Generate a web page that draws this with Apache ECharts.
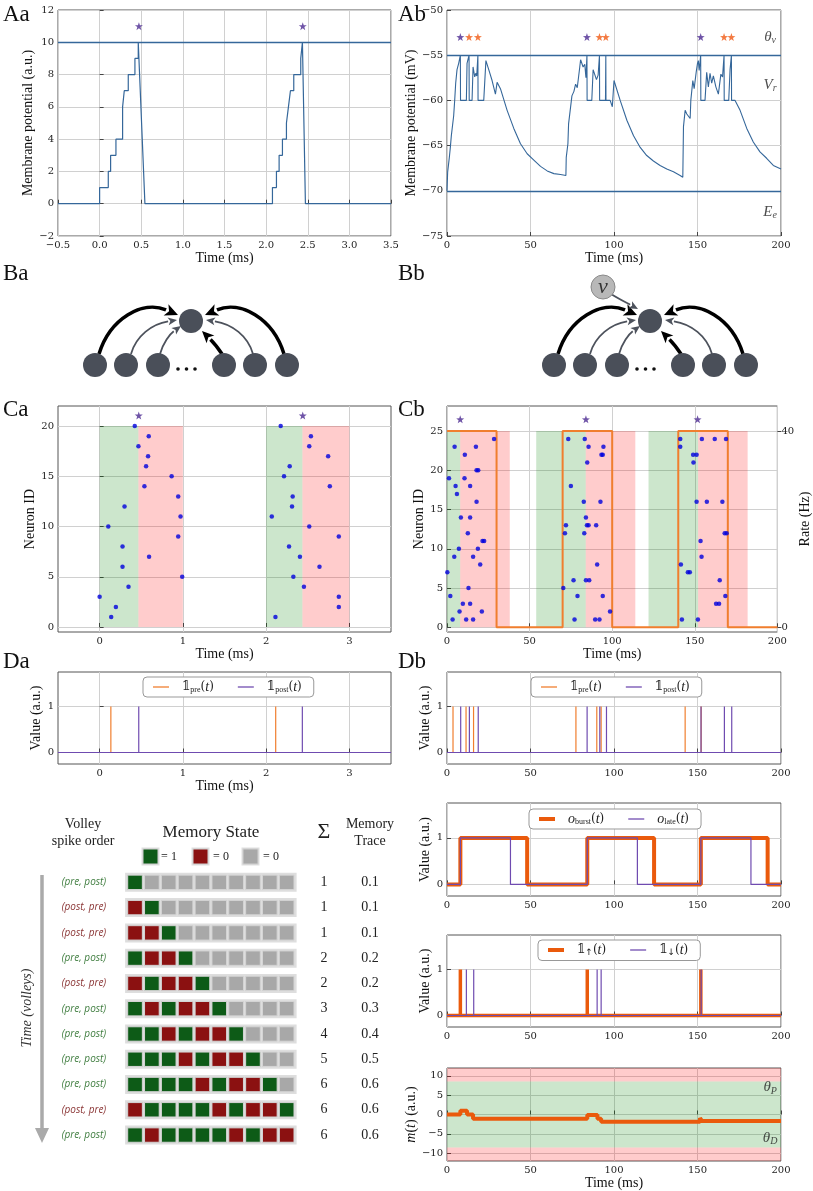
<!DOCTYPE html>
<html><head><meta charset="utf-8">
<script src="https://cdn.jsdelivr.net/npm/echarts@6/dist/echarts.min.js"></script>
<style>html,body{margin:0;padding:0;background:#fff}#c{width:813px;height:1191px}</style>
</head><body><div id="c"></div>
<script>
// ---------------- DATA ----------------
// Aa: membrane potential (a.u.)
const aaT = [-0.5,0,0,0.104,0.104,0.132,0.132,0.196,0.196,0.276,0.276,0.296,0.296,0.344,0.344,0.424,0.424,0.464,0.464,0.476,0.544,
             2.076,2.076,2.124,2.124,2.156,2.156,2.196,2.196,2.244,2.244,2.268,2.268,2.292,2.292,2.332,2.332,2.416,2.416,2.436,2.436,2.452,2.472,3.5];
const aaV = [0,0,1,1,2,2,3,3,4,4,6,6,7,7,8,8,9,9,10,10,0,
             0,1,1,2,2,3,3,4,4,5,5,6,6,7,7,8,8,9,9,10,10,0,0];
const aaThreshold = 10;
const aaStars = [0.472, 2.44];
const aaXTicks = [-0.5,0,0.5,1,1.5,2,2.5,3,3.5];
const aaYTicks = [-2,0,2,4,6,8,10,12];
// Ab: membrane potential (mV)
const abTrace = [[0,-70],[0.4,-67.9],[1.4,-66.3],[2,-65.2],[2.6,-63.9],[3.6,-63.7],[4,-61.7],[4.6,-60],[5.2,-58.1],[6,-56.6],[7,-55.9],[7.6,-56.1],[8,-55],[8.1,-60],[11.6,-60],[12,-55.9],[12.6,-55.7],[13.2,-55],[13.3,-60],[15,-60],[15.6,-56.3],[16.6,-57.4],[17.2,-57.0],[17.8,-57.3],[18.5,-55],[18.6,-60],[22,-60],[23.3,-55.6],[25,-56.6],[27,-57.8],[29,-59.3],[30,-58.0],[32,-58.7],[36,-61.1],[40,-63.1],[44,-64.8],[48,-65.9],[52,-66.6],[56,-67.3],[60,-67.8],[64,-68.1],[68,-68.2],[71.2,-68.3],[71.4,-66.3],[72.4,-64.8],[72.8,-62.6],[73.4,-62.4],[74.8,-59.5],[76,-59.0],[77,-58.2],[78,-58.6],[79.5,-56.3],[80,-55.5],[81.5,-56.3],[82.5,-56.0],[83.2,-57.5],[83.8,-55],[83.9,-60],[86.7,-60],[87.5,-56.6],[89.5,-57.7],[90.5,-57.2],[91.3,-55],[91.4,-60],[94.9,-60],[95.1,-55],[95.2,-60],[97.7,-60],[99,-60.7],[100,-57.8],[103.7,-60],[107.7,-62.2],[111.7,-63.9],[115.7,-65.2],[119.6,-66.1],[123.6,-66.7],[127.6,-67.2],[131.6,-67.6],[135.6,-67.9],[139.6,-68.3],[141.2,-68.5],[141.6,-62.9],[142.6,-61.1],[143.6,-61.5],[145.6,-62.0],[146,-60],[147.2,-57.8],[148,-58.7],[149.2,-56.9],[150,-55.9],[150.5,-55.6],[151,-56.7],[151.9,-55],[152,-60],[154.5,-60],[155.5,-56.9],[156.5,-58.5],[157.5,-57],[158.5,-58.1],[159.5,-57.3],[161,-58.5],[162.5,-59.3],[164,-57.1],[165,-57.4],[165.9,-55],[166,-60],[168.7,-60],[169.5,-56.6],[170.3,-55],[170.4,-60],[172.5,-60],[175.5,-61.1],[179.5,-63.1],[183.4,-64.6],[187.4,-65.7],[191.4,-66.4],[195.4,-67.2],[200,-67.6]];
const abThreshold = -55, abRest = -70;
const abFirstStars = [8.0, 83.8, 151.9];
const abLateStars = [13.2, 18.5, 91.3, 95.1, 165.9, 170.3];
const abYTicks = [-75,-70,-65,-60,-55,-50];
const msTicks = [0,50,100,150,200];
// Ca raster
const caT = [0.422,0.59,0.466,0.582,0.558,0.865,0.538,0.944,0.299,0.972,0.104,0.944,0.275,0.594,0.275,0.992,0.347,0,0.195,0.139,
             2.175,2.538,2.518,2.745,2.283,2.215,2.765,2.319,2.311,2.068,2.518,2.873,2.275,2.406,2.641,2.327,2.454,2.873,2.873,2.112];
const caN = [20,19,18,17,16,15,14,13,12,11,10,9,8,7,6,5,4,3,2,1,
             20,19,18,17,16,15,14,13,12,11,10,9,8,7,6,5,4,3,2,1];
const caGreen = [[0,0.466],[2.0,2.436]];
const caRed = [[0.466,1.0],[2.436,3.0]];
const caStars = [0.47, 2.44];
const caXTicks = [0,1,2,3];
const caYTicks = [0,5,10,15,20];
// Cb raster
const cbSpikes = [[28.5,24],[4.6,23],[17.5,23],[10.8,22],[17.9,20],[18.9,20],[1.2,19],[10.6,19],[5.2,18],[14,18],[6,17],[17.9,16],[8.4,14],[14,14],[12.6,12],[21.5,11],[22.5,11],[7.2,10],[18.7,10],[4.4,9],[15.8,9],[20.1,8],[0.2,7],[13,5],[2,4],[9.6,3],[14,3],[7.6,2],[21.1,2],[3.4,1],[11.6,1],[15.8,1],
  [73.4,24],[83.4,24],[85.7,23],[94.7,23],[93.5,22],[94.3,22],[84.9,21],[75,18],[82.8,16],[92.9,16],[84.1,14],[84.7,13],[85.7,13],[72,13],[90.3,13],[71.4,12],[83.1,12],[90.9,8],[76.6,6],[84.1,6],[86.1,6],[70.4,5],[79,4],[94.3,4],[98.7,2],[77.2,1],[89.7,1],[92.3,1],
  [141.2,24],[141.2,23],[149,22],[151.1,22],[149.2,21],[154.3,24],[162.1,24],[168.9,24],[151.1,16],[157.3,16],[166.7,16],[168.1,12],[169.3,12],[153.5,11],[154.1,9],[141.6,8],[145.8,7],[147,7],[165.1,6],[162.9,3],[164.7,3],[168.5,4],[142.2,1],[151.9,1]];
const cbGreen = [[0,8],[54,84],[122,152]];
const cbRed = [[8,38],[84,114],[152,182]];
const cbStars = [8, 84.1, 151.7];
const rateT = [0,30,70,100,140,170,200];
const rateV = [40,0,40,0,40,0,0];
const cbYTicks = [0,5,10,15,20,25];
const rateTicks = [0,40];
// Da / Db indicator spikes
const daPre = [0.135, 2.115];
const daPost = [0.47, 2.435];
const dbPre = [3.6, 11.4, 15.9, 77.2, 89.7, 92.3, 142.6, 152.2];
const dbPost = [8.2, 13.4, 18.7, 83.9, 91.5, 95.5, 152.1, 166.1, 170.5];
const valTicks = [0,1];
// Db2 outputs
const burstT = [0,8,48,84,124,152,192,200];
const burstV = [0,1,0,1,0,1,0,0];
const lateT = [0,8,38,84,114,152,182,200];
const lateV = [0,1,0,1,0,1,0,0];
// Db3 up/down
const upT = [8, 84, 152];
const downT = [11.6, 16, 89.9, 92.3, 152.2];
// Db4 memory m(t)
const mT = [0,8,12,15.6,84,90.1,92.3,151.5,152.6,200];
const mV = [0,1,0,-1.1,-0.1,-1.1,-1.85,-0.9,-1.65,-1.65];
const thetaP = 8.5, thetaD = -8.5;
const mYTicks = [-10,-5,0,5,10];
// Memory state table (1 = green, 0 = red, -1 = empty grey)
const memOrder = [['pre','post'],['post','pre'],['post','pre'],['pre','post'],['post','pre'],['pre','post'],['pre','post'],['pre','post'],['pre','post'],['post','pre'],['pre','post']];
const memState = [
  [1,-1,-1,-1,-1,-1,-1,-1,-1,-1],
  [0,1,-1,-1,-1,-1,-1,-1,-1,-1],
  [0,0,1,-1,-1,-1,-1,-1,-1,-1],
  [1,0,0,1,-1,-1,-1,-1,-1,-1],
  [0,1,0,0,1,-1,-1,-1,-1,-1],
  [1,0,1,0,0,1,-1,-1,-1,-1],
  [1,1,0,1,0,0,1,-1,-1,-1],
  [1,1,1,0,1,0,0,1,-1,-1],
  [1,1,1,1,0,1,0,0,1,-1],
  [0,1,1,1,1,0,1,0,0,1],
  [1,0,1,1,1,1,0,1,0,0]];
const memSum = [1,1,1,2,2,3,4,5,6,6,6];
const memTrace = ['0.1','0.1','0.1','0.2','0.2','0.3','0.4','0.5','0.6','0.6','0.6'];

// ---------------- STYLE ----------------
const FT = 'DejaVu Serif', FL = 'Liberation Serif';
const BLUE = '#35679a', PURPLE = '#4b2991', ORANGE = '#f05a14';
const PRE_C = '#f07e2e', POST_C = '#6f4bb0', BURST_C = '#ea5a0c';
const GREEN_A = 'rgba(0,128,0,0.2)', RED_A = 'rgba(255,0,0,0.2)';
const STAR = 'path://M0,-10L2.35,-3.24L9.51,-3.09L3.8,1.24L5.88,8.09L0,4L-5.88,8.09L-3.8,1.24L-9.51,-3.09L-2.35,-3.24Z';
const THIN = 'path://M0,0h20v1.6h-20z', THICK = 'path://M0,0h20v5h-20z';
const minus = v => String(v).replace('-', '\u2212');

function grid(l, t, w, h) { return {left: l, top: t, width: w, height: h, show: true, borderColor: '#555', borderWidth: 1, backgroundColor: '#fff'}; }
function axis(gi, min, max, ticks, name, gap, fmt, extra) {
  const a = {type: 'value', gridIndex: gi, min: min, max: max,
    axisLine: {show: false},
    axisTick: {show: true, inside: true, length: 4, lineStyle: {color: '#444'}, customValues: ticks},
    axisLabel: {fontFamily: FT, fontSize: 10, color: '#222', margin: 4, customValues: ticks, formatter: fmt || minus},
    splitLine: {show: true, lineStyle: {color: '#d0d0d0', width: 1}},
    name: name || '', nameLocation: 'middle', nameGap: gap || 0,
    nameTextStyle: {fontFamily: FL, fontSize: 14, color: '#111'}};
  return Object.assign(a, extra || {});
}
const pairs = (xs, ys) => xs.map((x, i) => [x, ys[i]]);
function spikes(times, x0, x1) {
  const d = [[x0, 0]];
  times.slice().sort((a, b) => a - b).forEach(t => d.push([t, 0], [t, 1], [t, 0]));
  d.push([x1, 0]);
  return d;
}
function bands(list, color, y0, y1) {
  return list.map(b => [{xAxis: b[0], yAxis: y0, itemStyle: {color: color}}, {xAxis: b[1], yAxis: y1}]);
}
function stars(xi, times, y, color) {
  return {type: 'scatter', xAxisIndex: xi, yAxisIndex: xi, symbol: STAR, symbolSize: 8, itemStyle: {color: color}, data: times.map(t => [t, y]), z: 5};
}
function labels(xi, items) {
  return {type: 'scatter', xAxisIndex: xi, yAxisIndex: xi, symbolSize: 1, itemStyle: {color: 'rgba(0,0,0,0)'},
    data: items.map(it => ({value: [it[0], it[1]], label: {show: true, position: 'inside', formatter: it[2]}})),
    label: {rich: {m: {fontFamily: FL, fontStyle: 'italic', fontSize: 15, color: '#222'}, s: {fontFamily: FL, fontStyle: 'italic', fontSize: 10, color: '#222', padding: [7, 0, 0, 0]}}}, z: 6};
}
const legRich = {
  a: {fontFamily: FT, fontSize: 12, color: '#222', padding: [0, 0, 0, 8]},
  b: {fontFamily: FT, fontSize: 12, color: '#222'},
  i: {fontFamily: FL, fontStyle: 'italic', fontSize: 14, color: '#222'},
  s: {fontFamily: FL, fontSize: 8, color: '#222', padding: [6, 0, 0, 0]},
  r: {fontFamily: 'DejaVu Sans', fontSize: 9, color: '#222', padding: [6, 0, 0, 0]}
};
const legNames = {
  preA: '{a|\u{1D7D9}}{s|pre}{b|(}{i|t}{b|)}', postA: '{a|\u{1D7D9}}{s|post}{b|(}{i|t}{b|)}',
  preB: '{a|\u{1D7D9}}{s|pre}{b|(}{i|t}{b|)}', postB: '{a|\u{1D7D9}}{s|post}{b|(}{i|t}{b|)}',
  burst: '{a|}{i|o}{s|burst}{b|(}{i|t}{b|)}', late: '{a|}{i|o}{s|late}{b|(}{i|t}{b|)}',
  up: '{a|\u{1D7D9}}{r|\u2191}{b|(}{i|t}{b|)}', down: '{a|\u{1D7D9}}{r|\u2193}{b|(}{i|t}{b|)}'
};
function legend(items, left, top) {
  return {data: items.map(it => ({name: it[0], icon: it[1]})), left: left, top: top, orient: 'horizontal', backgroundColor: '#fff', borderColor: '#999', borderWidth: 1, borderRadius: 4,
    padding: [3, 12, 3, 10], itemGap: 24, itemWidth: 16, itemHeight: 10, selectedMode: false, symbolKeepAspect: true,
    formatter: n => legNames[n], textStyle: {rich: legRich}};
}

// ---------------- NETWORK DIAGRAM (graphic) ----------------
function arrow(p0, c1, c2, p3, lw, color, hl, hw) {
  const dx = p3[0] - c2[0], dy = p3[1] - c2[1], L = Math.hypot(dx, dy), ux = dx / L, uy = dy / L;
  const bx = p3[0] - ux * hl, by = p3[1] - uy * hl, nx = -uy, ny = ux;
  return [
    {type: 'bezierCurve', shape: {x1: p0[0], y1: p0[1], cpx1: c1[0], cpy1: c1[1], cpx2: c2[0], cpy2: c2[1], x2: bx, y2: by}, style: {stroke: color, lineWidth: lw, fill: null}, z: 10},
    {type: 'polygon', shape: {points: [[p3[0], p3[1]], [bx + nx * hw / 2, by + ny * hw / 2], [bx + ux * hl * 0.25, by + uy * hl * 0.25], [bx - nx * hw / 2, by - ny * hw / 2]]}, style: {fill: color}, z: 10}
  ];
}
function network(ox, withNu) {
  const els = [];
  const G = '#4d525c', K = '#000', NODE = '#4a4f59';
  const P = (x, y) => [x + ox, y];
  els.push(...arrow(P(99, 354), P(110, 318), P(143, 300), P(178, 315), 3.5, K, 13, 12));
  els.push(...arrow(P(284, 354), P(273, 318), P(240, 300), P(205, 315), 3.5, K, 13, 12));
  els.push(...arrow(P(131, 354), P(136, 336), P(152, 324), P(177, 320), 1.8, G, 9, 8));
  els.push(...arrow(P(253, 354), P(248, 336), P(232, 324), P(206, 320), 1.8, G, 9, 8));
  els.push(...arrow(P(160, 354), P(163, 343), P(170, 334), P(181, 326), 1.8, G, 9, 8));
  els.push(...arrow(P(222, 354), P(218, 348), P(212, 341), P(202, 331), 3.5, K, 12, 11));
  [95, 126, 158, 224, 255, 287].forEach(x => els.push({type: 'circle', shape: {cx: x + ox, cy: 365, r: 12}, style: {fill: NODE}, z: 11}));
  els.push({type: 'circle', shape: {cx: 191 + ox, cy: 321, r: 12}, style: {fill: NODE}, z: 11});
  [178, 186.5, 195].forEach(x => els.push({type: 'circle', shape: {cx: x + ox, cy: 369, r: 1.8}, style: {fill: '#111'}, z: 11}));
  if (withNu) {
    els.push(...arrow(P(152, 294), P(160, 299), P(168, 303), P(179, 309), 1.8, G, 9, 8));
    els.push({type: 'circle', shape: {cx: 144 + ox, cy: 287, r: 12}, style: {fill: '#b8b8b8', stroke: '#8a8a8a', lineWidth: 1}, z: 11});
    els.push({type: 'text', x: 144 + ox, y: 287, style: {text: '\u03BD', font: 'italic 22px "Liberation Serif"', fill: '#333', align: 'center', verticalAlign: 'middle'}, z: 12});
  }
  return els;
}

// ---------------- MEMORY TABLE (custom series) ----------------
const memCells = [];
memState.forEach((row, r) => row.forEach((s, c) => memCells.push([c, r, s])));
const memRows = memOrder.map((o, r) => [r]);
const CELL_COLORS = {'1': '#0d5b17', '0': '#8b1111', '-1': '#a8a8a8'};
const ORDER_COL = -3.03, SUM_COL = 11.22, TRACE_COL = 13.95;

const graphics = [];
[['Aa', 3, 3], ['Ab', 398, 3], ['Ba', 3, 262], ['Bb', 398, 262], ['Ca', 3, 398], ['Cb', 398, 398], ['Da', 3, 650], ['Db', 398, 650]]
  .forEach(p => graphics.push({type: 'text', x: p[1], y: p[2], style: {text: p[0], font: '23px "Liberation Serif"', fill: '#111'}, z: 20}));
graphics.push(...network(0, false), ...network(459, true));
const hdr = (t, x, y, size) => ({type: 'text', x: x, y: y, style: {text: t, font: size + 'px "Liberation Serif"', fill: '#222', align: 'center', verticalAlign: 'middle'}});
graphics.push(hdr('Volley', 83, 824, 14), hdr('spike order', 83, 841, 14), hdr('Memory State', 211, 833, 17), hdr('\u03A3', 324, 832, 22), hdr('Memory', 370, 824, 14), hdr('Trace', 370, 841, 14));
[[143, '#0d5b17', '= 1', 169], [193, '#8b1111', '= 0', 221], [243, '#a8a8a8', '= 0', 271]].forEach(l => {
  graphics.push({type: 'rect', shape: {x: l[0] - 1.5, y: 847.5, width: 18, height: 18}, style: {fill: '#dedede'}});
  graphics.push({type: 'rect', shape: {x: l[0], y: 849, width: 15, height: 15}, style: {fill: l[1], stroke: '#d0d0d0', lineWidth: 1}});
  graphics.push({type: 'text', x: l[3], y: 857, style: {text: l[2], font: '12px "Liberation Serif"', fill: '#222', align: 'center', verticalAlign: 'middle'}});
});
graphics.push({type: 'line', shape: {x1: 42, y1: 875, x2: 42, y2: 1130}, style: {stroke: '#aaaaaa', lineWidth: 3.5}});
graphics.push({type: 'polygon', shape: {points: [[35, 1128], [49, 1128], [42, 1143]]}, style: {fill: '#aaaaaa'}});
graphics.push({type: 'text', x: 27, y: 1008, rotation: Math.PI / 2, style: {text: 'Time (volleys)', font: 'italic 14px "Liberation Serif"', fill: '#333', align: 'center', verticalAlign: 'middle'}});

// ---------------- OPTION ----------------
const option = {
  animation: false,
  backgroundColor: '#fff',
  graphic: graphics,
  grid: [grid(58, 10, 333, 226), grid(447, 10, 334, 226), grid(58, 406, 333, 226), grid(447, 406, 334, 226),
         grid(58, 672, 333, 92), grid(447, 672, 334, 92), grid(447, 803, 334, 93), grid(447, 935, 334, 92), grid(447, 1068, 334, 93),
         {left: 126.6, top: 869.7, width: 168.5, height: 278, show: false}],
  legend: [legend([['preA', THIN], ['postA', THIN]], 143, 677), legend([['preB', THIN], ['postB', THIN]], 531, 677),
           legend([['burst', THICK], ['late', THIN]], 529, 809), legend([['up', THICK], ['down', THIN]], 538, 940)],
  xAxis: [
    axis(0, -0.5, 3.5, aaXTicks, 'Time (ms)', 14, v => v.toFixed(1).replace('-', '\u2212')),
    axis(1, 0, 200, msTicks, 'Time (ms)', 14),
    axis(2, -0.5, 3.5, caXTicks, 'Time (ms)', 13),
    axis(3, 0, 200, msTicks, 'Time (ms)', 13),
    axis(4, -0.5, 3.5, caXTicks, 'Time (ms)', 8),
    axis(5, 0, 200, msTicks),
    axis(6, 0, 200, msTicks),
    axis(7, 0, 200, msTicks),
    axis(8, 0, 200, msTicks, 'Time (ms)', 13),
    {type: 'value', gridIndex: 9, min: -0.5, max: 9.5, show: false}
  ],
  yAxis: [
    axis(0, -2, 12, aaYTicks, 'Membrane potential (a.u.)', 16),
    axis(1, -75, -50, abYTicks, 'Membrane potential (mV)', 21),
    axis(2, -0.5, 22, caYTicks, 'Neuron ID', 17),
    axis(3, -0.6, 28.2, cbYTicks, 'Neuron ID', 16),
    axis(4, -0.25, 1.75, valTicks, 'Value (a.u.)', 7),
    axis(5, -0.25, 1.75, valTicks, 'Value (a.u.)', 6),
    axis(6, -0.25, 1.75, valTicks, 'Value (a.u.)', 6),
    axis(7, -0.25, 1.75, valTicks, 'Value (a.u.)', 6),
    axis(8, -12, 12, mYTicks, '{i|m}({i|t}) (a.u.)', 17, null, {nameTextStyle: {fontFamily: FL, fontSize: 14, color: '#111', rich: {i: {fontFamily: FL, fontStyle: 'italic', fontSize: 14, color: '#111'}}}}),
    {type: 'value', gridIndex: 9, min: -0.5, max: 10.5, inverse: true, show: false},
    axis(3, -0.96, 45.12, rateTicks, 'Rate (Hz)', 16, null, {position: 'right', splitLine: {show: false}, nameRotate: 90,
      axisTick: {show: true, inside: false, length: 4, lineStyle: {color: '#444'}, customValues: rateTicks}})
  ],
  series: [
    // Aa
    {type: 'line', xAxisIndex: 0, yAxisIndex: 0, data: pairs(aaT, aaV), symbol: 'none', lineStyle: {color: BLUE, width: 1.2},
      markLine: {silent: true, symbol: 'none', label: {show: false}, lineStyle: {color: BLUE, width: 1.4, type: 'solid'}, data: [{yAxis: aaThreshold}]}},
    stars(0, aaStars, 11, PURPLE),
    // Ab
    {type: 'line', xAxisIndex: 1, yAxisIndex: 1, data: abTrace, symbol: 'none', lineStyle: {color: BLUE, width: 1.1},
      markLine: {silent: true, symbol: 'none', label: {show: false}, lineStyle: {color: BLUE, width: 1.4, type: 'solid'}, data: [{yAxis: abThreshold}, {yAxis: abRest}]}},
    stars(1, abFirstStars, -53, PURPLE), stars(1, abLateStars, -53, ORANGE),
    labels(1, [[193.5, -53, '{m|\u03B8}{s|v}'], [193.5, -58.3, '{m|V}{s|r}'], [193.5, -72.3, '{m|E}{s|e}']]),
    // Ca
    {type: 'scatter', xAxisIndex: 2, yAxisIndex: 2, data: pairs(caT, caN), symbolSize: 4.5, itemStyle: {color: '#0000dd'}, z: 4,
      markArea: {silent: true, itemStyle: {borderWidth: 0}, data: bands(caGreen, GREEN_A, 0, 20).concat(bands(caRed, RED_A, 0, 20))}},
    stars(2, caStars, 21.05, PURPLE),
    // Cb
    {type: 'scatter', xAxisIndex: 3, yAxisIndex: 3, data: cbSpikes, symbolSize: 4.5, itemStyle: {color: '#0000dd'}, z: 4,
      markArea: {silent: true, itemStyle: {borderWidth: 0}, data: bands(cbGreen, GREEN_A, 0, 25).concat(bands(cbRed, RED_A, 0, 25))}},
    {type: 'line', xAxisIndex: 3, yAxisIndex: 10, data: pairs(rateT, rateV), step: 'end', symbol: 'none', lineStyle: {color: PRE_C, width: 2}, z: 3},
    stars(3, cbStars, 26.5, PURPLE),
    // Da
    {name: 'preA', type: 'line', xAxisIndex: 4, yAxisIndex: 4, data: spikes(daPre, -0.5, 3.5), symbol: 'none', color: PRE_C, lineStyle: {color: PRE_C, width: 1.2}},
    {name: 'postA', type: 'line', xAxisIndex: 4, yAxisIndex: 4, data: spikes(daPost, -0.5, 3.5), symbol: 'none', color: POST_C, lineStyle: {color: POST_C, width: 1.2}},
    // Db
    {name: 'preB', type: 'line', xAxisIndex: 5, yAxisIndex: 5, data: spikes(dbPre, 0, 200), symbol: 'none', color: PRE_C, lineStyle: {color: PRE_C, width: 1.2}},
    {name: 'postB', type: 'line', xAxisIndex: 5, yAxisIndex: 5, data: spikes(dbPost, 0, 200), symbol: 'none', color: POST_C, lineStyle: {color: POST_C, width: 1.2}},
    // Db2
    {name: 'burst', type: 'line', xAxisIndex: 6, yAxisIndex: 6, data: pairs(burstT, burstV), step: 'end', symbol: 'none', color: BURST_C, lineStyle: {color: BURST_C, width: 4}},
    {name: 'late', type: 'line', xAxisIndex: 6, yAxisIndex: 6, data: pairs(lateT, lateV), step: 'end', symbol: 'none', color: POST_C, lineStyle: {color: POST_C, width: 1.2}},
    // Db3
    {name: 'up', type: 'line', xAxisIndex: 7, yAxisIndex: 7, data: spikes(upT, 0, 200), symbol: 'none', color: BURST_C, lineStyle: {color: BURST_C, width: 3.5}},
    {name: 'down', type: 'line', xAxisIndex: 7, yAxisIndex: 7, data: spikes(downT, 0, 200), symbol: 'none', color: POST_C, lineStyle: {color: POST_C, width: 1.2}},
    // Db4
    {type: 'line', xAxisIndex: 8, yAxisIndex: 8, data: pairs(mT, mV), step: 'end', symbol: 'none', lineStyle: {color: BURST_C, width: 4}, z: 4,
      markArea: {silent: true, data: [
        [{yAxis: thetaP, itemStyle: {color: RED_A}}, {yAxis: 12}],
        [{yAxis: thetaD, itemStyle: {color: GREEN_A}}, {yAxis: thetaP}],
        [{yAxis: -12, itemStyle: {color: RED_A}}, {yAxis: thetaD}]]}},
    labels(8, [[193.5, 7, '{m|\u03B8}{s|P}'], [193.5, -6, '{m|\u03B8}{s|D}']]),
    // Memory table
    {type: 'custom', xAxisIndex: 9, yAxisIndex: 9, data: memRows, clip: false, silent: true,
      renderItem: (p, api) => {
        const r = api.value(0);
        const a = api.coord([-0.5, r]), b = api.coord([9.5, r]);
        const o = memOrder[r], green = o[0] === 'pre';
        return {type: 'group', children: [
          {type: 'rect', shape: {x: a[0] - 1.5, y: a[1] - 9.5, width: b[0] - a[0] + 3, height: 19}, style: {fill: '#dedede'}},
          {type: 'text', x: api.coord([ORDER_COL, r])[0], y: a[1], style: {text: '(' + o[0] + ', ' + o[1] + ')', font: 'italic 10px "Open Sans"', fill: green ? '#3f7d3f' : '#8a3434', align: 'center', verticalAlign: 'middle'}},
          {type: 'text', x: api.coord([SUM_COL, r])[0], y: a[1], style: {text: String(memSum[r]), font: '14px "Liberation Serif"', fill: '#222', align: 'center', verticalAlign: 'middle'}},
          {type: 'text', x: api.coord([TRACE_COL, r])[0], y: a[1], style: {text: memTrace[r], font: '14px "Liberation Serif"', fill: '#222', align: 'center', verticalAlign: 'middle'}}
        ]};
      }},
    {type: 'custom', xAxisIndex: 9, yAxisIndex: 9, data: memCells, clip: false, silent: true, z: 3,
      renderItem: (p, api) => {
        const c = api.coord([api.value(0), api.value(1)]), s = api.size([1, 1]);
        const w = s[0] * 0.87, h = 14.4;
        return {type: 'rect', shape: {x: c[0] - w / 2, y: c[1] - h / 2, width: w, height: h}, style: {fill: CELL_COLORS[String(api.value(2))], stroke: '#d4d4d4', lineWidth: 1}};
      }}
  ]
};
const chart = echarts.init(document.getElementById('c'), null, {renderer: 'canvas'});
chart.setOption(option);
</script></body></html>
